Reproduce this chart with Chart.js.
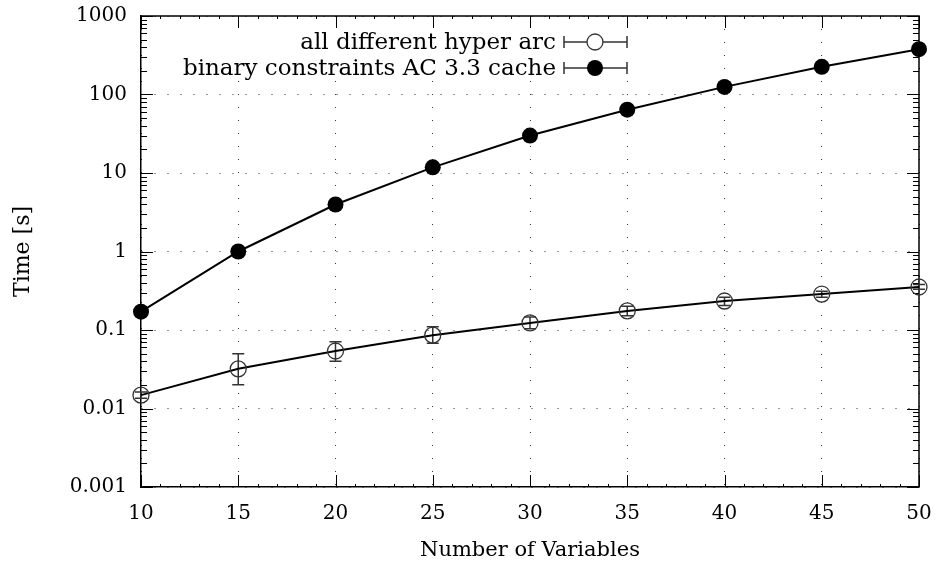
<!DOCTYPE html>
<html><head><meta charset="utf-8">
<script src="https://cdn.jsdelivr.net/npm/chart.js@4"></script>
<style>html,body{margin:0;padding:0;background:#fff}canvas{display:block}</style>
</head><body>
<canvas id="c" width="942" height="570"></canvas>
<script>
const variables = [10, 15, 20, 25, 30, 35, 40, 45, 50];
const hyperArc = [0.0148, 0.032, 0.054, 0.086, 0.123, 0.175, 0.234, 0.287, 0.353];
const hyperArcLow = [0.0135, 0.020, 0.040, 0.068, 0.104, 0.152, 0.205, 0.262, 0.330];
const hyperArcHigh = [0.0162, 0.050, 0.071, 0.110, 0.146, 0.200, 0.262, 0.312, 0.380];
const binaryAC33 = [0.171, 1.0, 3.97, 11.8, 30, 64, 125, 225, 378];
const xTicks = [10, 15, 20, 25, 30, 35, 40, 45, 50];
const yTicks = [0.001, 0.01, 0.1, 1, 10, 100, 1000];
const yTickLabels = ['0.001', '0.01', '0.1', '1', '10', '100', '1000'];
const seriesNames = ['all different hyper arc', 'binary constraints AC 3.3 cache'];
const xTitle = 'Number of Variables';
const yTitle = 'Time [s]';

const toPts = (ys) => variables.map((x, i) => ({x: x, y: ys[i]}));

const framePlugin = {
  id: 'frame',
  beforeDatasetsDraw(chart) {
    const ctx = chart.ctx, a = chart.chartArea;
    const xs = chart.scales.x, ys = chart.scales.y;
    ctx.save();
    ctx.fillStyle = '#fff';
    ctx.fillRect(162, 27, 472, 54);
    ctx.strokeStyle = '#000';
    ctx.lineWidth = 1.5;
    ctx.beginPath();
    ctx.moveTo(a.left, a.top); ctx.lineTo(a.right, a.top); ctx.lineTo(a.right, a.bottom);
    ctx.stroke();
    ctx.lineWidth = 1;
    ctx.beginPath();
    for (let k = 0; k < yTicks.length; k++) {
      const v = yTicks[k];
      const py = Math.round(ys.getPixelForValue(v)) + 0.5;
      ctx.moveTo(a.left, py); ctx.lineTo(a.left + 12, py);
      ctx.moveTo(a.right, py); ctx.lineTo(a.right - 12, py);
      if (k < yTicks.length - 1) {
        for (let d = 2; d <= 9; d++) {
          const my = Math.round(ys.getPixelForValue(v * d)) + 0.5;
          ctx.moveTo(a.left, my); ctx.lineTo(a.left + 6, my);
          ctx.moveTo(a.right, my); ctx.lineTo(a.right - 6, my);
        }
      }
    }
    for (let v = xTicks[0]; v <= xTicks[xTicks.length - 1]; v++) {
      const px = Math.round(xs.getPixelForValue(v)) + 0.5;
      const len = xTicks.includes(v) ? 12 : 3;
      ctx.moveTo(px, a.bottom); ctx.lineTo(px, a.bottom - len);
      ctx.moveTo(px, a.top); ctx.lineTo(px, a.top + len);
    }
    ctx.stroke();
    ctx.strokeStyle = '#333';
    ctx.lineWidth = 1.5;
    ctx.beginPath();
    for (let i = 0; i < variables.length; i++) {
      const px = xs.getPixelForValue(variables[i]);
      const lo = ys.getPixelForValue(hyperArcLow[i]);
      const hi = ys.getPixelForValue(hyperArcHigh[i]);
      ctx.moveTo(px, lo); ctx.lineTo(px, hi);
      ctx.moveTo(px - 6, lo); ctx.lineTo(px + 6, lo);
      ctx.moveTo(px - 6, hi); ctx.lineTo(px + 6, hi);
    }
    ctx.stroke();
    ctx.restore();
  },
  afterDraw(chart) {
    const ctx = chart.ctx;
    ctx.save();
    ctx.font = '23px "DejaVu Serif"';
    ctx.fillStyle = '#000';
    ctx.textAlign = 'right';
    ctx.textBaseline = 'middle';
    const rows = [42, 68];
    for (let i = 0; i < 2; i++) {
      const y = rows[i];
      ctx.fillText(seriesNames[i], 556, y + 1);
      ctx.strokeStyle = '#333';
      ctx.lineWidth = 1.5;
      ctx.beginPath();
      ctx.moveTo(564, y); ctx.lineTo(627, y);
      ctx.moveTo(564, y - 6); ctx.lineTo(564, y + 6);
      ctx.moveTo(627, y - 6); ctx.lineTo(627, y + 6);
      ctx.stroke();
      ctx.beginPath();
      ctx.arc(595, y, 8, 0, Math.PI * 2);
      if (i === 0) {
        ctx.fillStyle = '#fff'; ctx.fill();
        ctx.lineWidth = 1.3; ctx.strokeStyle = '#333'; ctx.stroke();
      } else {
        ctx.fillStyle = '#000'; ctx.fill();
      }
      ctx.fillStyle = '#000';
    }
    ctx.restore();
  }
};

new Chart(document.getElementById('c'), {
  type: 'line',
  data: {
    datasets: [
      {
        label: seriesNames[0],
        data: toPts(hyperArc),
        borderColor: '#000',
        borderWidth: 2,
        pointRadius: 8,
        pointHoverRadius: 8,
        pointBorderWidth: 1.3,
        pointBorderColor: '#333',
        pointBackgroundColor: 'rgba(0,0,0,0)',
        tension: 0,
        clip: false
      },
      {
        label: seriesNames[1],
        data: toPts(binaryAC33),
        borderColor: '#000',
        borderWidth: 2,
        pointRadius: 8,
        pointHoverRadius: 8,
        pointBorderWidth: 0,
        pointBackgroundColor: '#000',
        tension: 0,
        clip: false
      }
    ]
  },
  options: {
    responsive: false,
    animation: false,
    devicePixelRatio: 1,
    layout: {padding: {left: 0, right: 23, top: 16, bottom: 0}},
    plugins: {legend: {display: false}, tooltip: {enabled: false}},
    events: [],
    scales: {
      x: {
        type: 'linear',
        min: 10, max: 50,
        afterBuildTicks: (s) => { s.ticks = xTicks.map(v => ({value: v})); },
        afterFit: (s) => { s.height = 83; s.paddingLeft = 0; s.paddingRight = 0; },
        ticks: {
          padding: 15,
          color: '#000',
          font: {family: '"DejaVu Serif"', size: 20},
          maxRotation: 0,
          callback: (v) => String(v)
        },
        grid: {drawTicks: false, color: '#333', lineWidth: 1},
        border: {display: true, color: '#000', width: 1.5, dash: [1, 12]},
        title: {
          display: true, text: xTitle, color: '#000',
          font: {family: '"DejaVu Serif"', size: 21},
          padding: {top: 0, bottom: 7}
        }
      },
      y: {
        type: 'logarithmic',
        min: 0.001, max: 1000,
        afterBuildTicks: (s) => { s.ticks = yTicks.map(v => ({value: v})); },
        afterFit: (s) => { s.width = 141; s.paddingTop = 0; s.paddingBottom = 0; },
        ticks: {
          padding: 14,
          color: '#000',
          font: {family: '"DejaVu Serif"', size: 20},
          callback: (v, i) => yTickLabels[i]
        },
        grid: {drawTicks: false, color: '#333', lineWidth: 1},
        border: {display: true, color: '#000', width: 1.5, dash: [1, 12]},
        title: {
          display: true, text: yTitle, color: '#000',
          font: {family: '"DejaVu Serif"', size: 22},
          padding: {top: 10, bottom: 0}
        }
      }
    }
  },
  plugins: [framePlugin]
});
</script>
</body></html>
